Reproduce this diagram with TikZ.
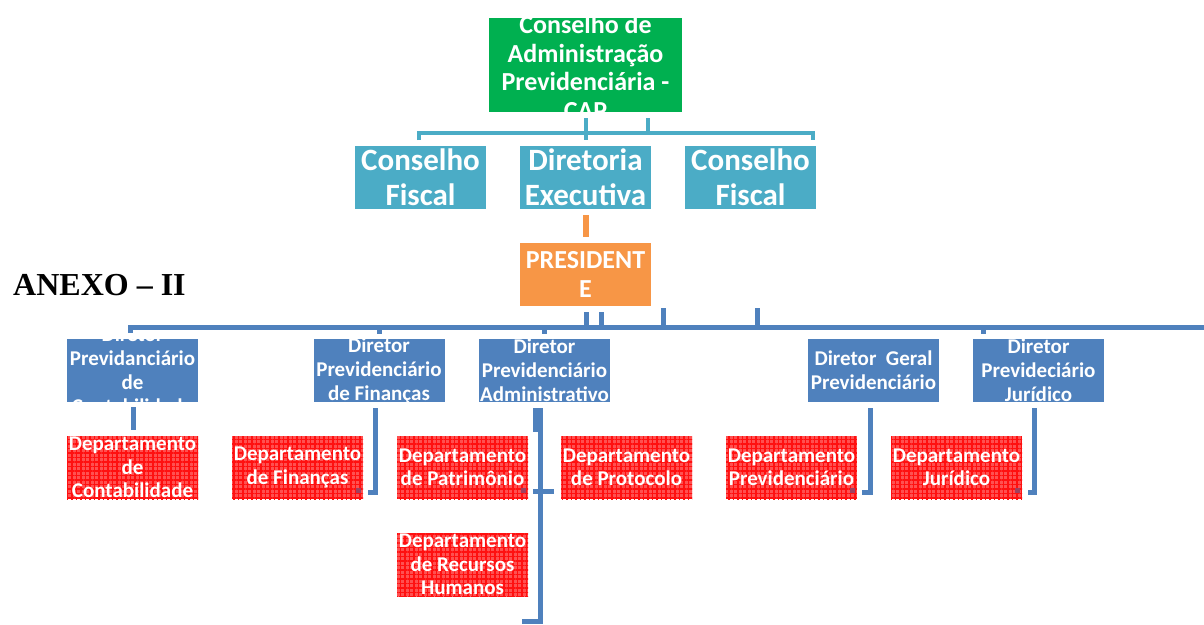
\documentclass[tikz,border=0pt]{standalone}
\usepackage{fontspec}
\setmainfont{Carlito}
\newfontfamily\tnr{Liberation Serif}
\usetikzlibrary{patterns.meta,calc}
\definecolor{grc}{HTML}{00B050}
\definecolor{tlc}{HTML}{4BACC6}
\definecolor{orc}{HTML}{F79646}
\definecolor{blc}{HTML}{4F81BD}
\definecolor{rbase}{HTML}{FF5050}
\definecolor{rline}{HTML}{FF1010}
\definecolor{hdl}{HTML}{A0405F}
\newcommand\mybox[7][0]{%
  \node[box,#5] (#2) at (#3,#4) {};
  \begin{scope}
    \clip (#2.south west) rectangle (#2.north east);
    \node[txt,font=#6] (#2t) at ($(#2.center)+(0,#1)$) {#7};
  \end{scope}}
\newcommand\fcap{\bfseries\fontsize{26}{28.8}\selectfont}
\newcommand\fcf{\bfseries\fontsize{31}{35}\selectfont}
\newcommand\fpr{\bfseries\fontsize{26}{29}\selectfont}
\newcommand\fdir{\bfseries\fontsize{21}{24}\selectfont}
\newcommand\fdep{\bfseries\fontsize{21}{23.5}\selectfont}
\begin{document}
\begin{tikzpicture}[x=1pt,y=-1pt,
  box/.style={minimum width=131pt,minimum height=63pt,inner sep=0pt,outer sep=0pt},
  txt/.style={text=white,align=center,inner sep=0pt},
  green/.style={fill=grc,minimum width=193pt,minimum height=94pt},
  teal/.style={fill=tlc},
  orange/.style={fill=orc},
  blue/.style={fill=blc},
  dept/.style={fill=rbase,
    postaction={pattern={Lines[distance=4.5pt,angle=0,line width=1.2pt]},pattern color=rline},
    postaction={pattern={Lines[distance=4.5pt,angle=90,line width=1.2pt]},pattern color=rline}},
  tline/.style={draw=tlc,line width=4pt},
  oline/.style={draw=orc,line width=6pt},
  bline/.style={draw=blc,line width=5pt},
  handle/.style={fill=hdl,minimum width=5pt,minimum height=5pt,inner sep=0pt}
]
\useasboundingbox (0,0) rectangle (1204,624);

% top level
\mybox[2.5]{cap}{585.5}{65}{green}{\fcap}{Conselho de\\Administração\\Previdenciária -\\CAP}
\mybox{cf1}{420.5}{177.5}{teal}{\fcf}{Conselho\\Fiscal}
\mybox{dex}{585.5}{177.5}{teal}{\fcf}{Diretoria\\Executiva}
\mybox{cf2}{750.5}{177.5}{teal}{\fcf}{Conselho\\Fiscal}
\mybox{pres}{585.5}{274.5}{orange}{\fpr}{PRESIDENT\\E}

\node[anchor=base west,inner sep=0pt,font=\tnr\bfseries\fontsize{32}{32}\selectfont] (anexo) at (13,295) {ANEXO – II};

% directors
\mybox{d1}{132.5}{370.5}{blue}{\fdir}{Diretor\\Previdanciário\\de\\Contabilidade}
\mybox{d2}{379}{370.5}{blue}{\fdir}{Diretor\\Previdenciário\\de Finanças}
\mybox{d3}{544.5}{370.5}{blue}{\fdir}{Diretor\\Previdenciário\\Administrativo}
\mybox{d4}{873.5}{370.5}{blue}{\fdir}{Diretor\ \ Geral\\Previdenciário}
\mybox{d5}{1038.5}{370.5}{blue}{\fdir}{Diretor\\Prevideciário\\Jurídico}

% departments
\mybox{p1}{132.5}{467.5}{dept}{\fdep}{Departamento\\de\\Contabilidade}
\mybox{p2}{297.5}{467.5}{dept}{\fdep}{Departamento\\de Finanças}
\mybox{p3}{462.5}{467.5}{dept}{\fdep}{Departamento\\de Patrimônio}
\mybox{p4}{626.5}{467.5}{dept}{\fdep}{Departamento\\de Protocolo}
\mybox{p5}{462.5}{564.5}{dept}{\fdep}{Departamento\\de Recursos\\Humanos}
\mybox{p6}{791.5}{467.5}{dept}{\fdep}{Departamento\\Previdenciário}
\mybox{p7}{956.5}{467.5}{dept}{\fdep}{Departamento\\Jurídico}

\node[handle] (h2) at ($(p2.south east)+(-4.5,-8.5)$) {};
\node[handle] (h3) at ($(p3.south east)+(-4.5,-8.5)$) {};
\node[handle] (h6) at ($(p6.south east)+(-4.5,-8.5)$) {};
\node[handle] (h7) at ($(p7.south east)+(-4.5,-8.5)$) {};

% teal bracket under CAP
\coordinate (tL) at (419,140);
\coordinate (tR) at (813,140);
\coordinate (tY) at (0,133);
\draw[tline] (tL) -- (tL |- tY) -- (tR |- tY) -- (tR);
\coordinate (ta) at (586,118);
\coordinate (tb) at (586,140);
\coordinate (tc) at (648,118);
\draw[tline] (ta) -- (tb);
\draw[tline] (tc) -- (tc |- tY);

% orange link
\draw[oline,shorten >=6pt,shorten <=6pt] (dex.south) -- (pres.north);

% main blue bus
\coordinate (bL) at (130,333);
\coordinate (bY) at (0,327);
\coordinate (bR) at (1204,327);
\draw[bline] (bL) -- (bL |- bY) -- (bR);
\foreach \x/\y in {586/312,601/312,663/308,757/308}
  \draw[bline] (\x,\y) -- (\x,327);
\foreach \x in {379,544,983}
  \draw[bline] (\x,327) -- (\x,334);

% director to department links
\coordinate (c1a) at (133,407);
\coordinate (c1b) at (133,430);
\draw[bline] (c1a) -- (c1b);
\coordinate (c2a) at (375,408);
\coordinate (c2b) at (368,492);
\draw[bline] (c2a) |- (c2b);
\coordinate (c3a) at (535,408);
\coordinate (c3b) at (535,432);
\draw[bline] (c3a) -- (c3b);
\coordinate (c3c) at (540,408);
\coordinate (c3d) at (522,621);
\draw[bline] (c3c) |- (c3d);
\coordinate (c3e) at (533,491);
\coordinate (c3f) at (554,491);
\draw[bline] (c3e) -- (c3f);
\coordinate (c4a) at (870,408);
\coordinate (c4b) at (862,492);
\draw[bline] (c4a) |- (c4b);
\coordinate (c5a) at (1034,408);
\coordinate (c5b) at (1028,492);
\draw[bline] (c5a) |- (c5b);
\end{tikzpicture}
\end{document}
